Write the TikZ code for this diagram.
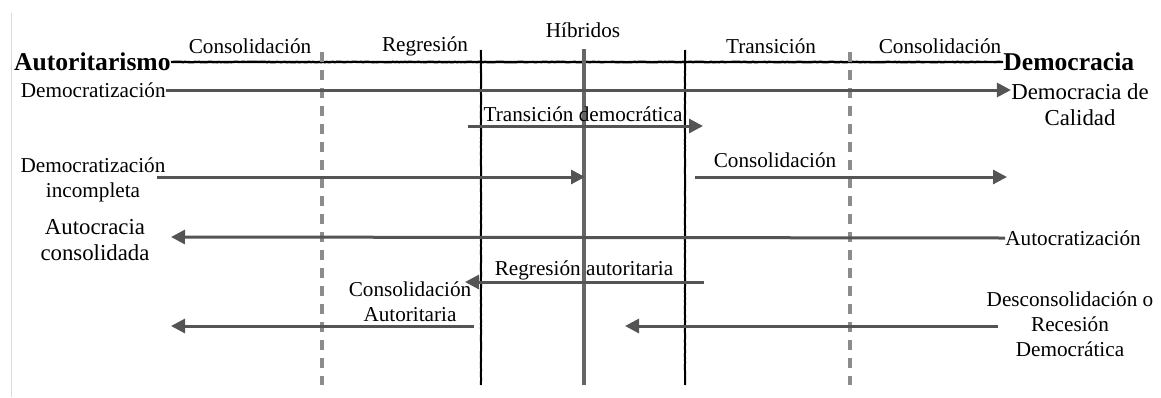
\documentclass[tikz,border=0pt]{standalone}
\usepackage{fontspec}
\setmainfont{Liberation Serif}
\usetikzlibrary{arrows.meta,decorations.pathmorphing}
\tikzstyle{lbl} = [inner sep=0pt, align=center, font=\fontsize{10.6}{12.5}\selectfont]
\tikzstyle{biglbl} = [inner sep=0pt, align=center, font=\fontsize{11.4}{13}\selectfont]
\tikzstyle{pole} = [inner sep=0pt, font=\bfseries\fontsize{12.8}{15}\selectfont]
\tikzstyle{move} = [draw=black!67, line width=1.5pt, -{Triangle[length=7pt,width=7pt]}]
\tikzstyle{rough} = [draw=black, line width=1pt, decorate, decoration={random steps, segment length=1pt, amplitude=0.12pt}]
\tikzstyle{stagedash} = [draw=black!45, line width=2pt, dash pattern=on 5pt off 4pt]
\tikzstyle{hybrid} = [draw=black!60, line width=2pt]

\begin{document}
\begin{tikzpicture}[x=0.5pt, y=-0.5pt]
    \useasboundingbox (0,0) rectangle (1161,397);
    \draw[black!15, line width=0.5pt] (11,13) -- (11,397);
    % poles and axis
    \node[pole, anchor=east](autor) at (171,62){Autoritarismo};
    \node[pole, anchor=west](democ) at (1003,62){Democracia};
    \draw[rough, line width=1.2pt] (autor) -- (democ);
    % stages
    \node[lbl](cons1) at (250,46){Consolidación};
    \node[lbl](regr) at (425,46){Regresión};
    \node[lbl](hibr) at (583,30){Híbridos};
    \node[lbl](trans) at (771,46){Transición};
    \node[lbl](cons2) at (940,46){Consolidación};
    \foreach \x in {322,850} \draw[stagedash] (\x,52) -- (\x,385);
    \foreach \x in {481,685} \draw[rough] (\x,50) -- (\x,385);
    \draw[hybrid] (584,49) -- (584,385);
    % trajectories
    \node[lbl, anchor=east](democz) at (166,90){Democratización};
    \node[biglbl](calidad) at (1080,105){Democracia de\\Calidad};
    \draw[move] (democz.east) -- (calidad.west |- democz.east);
    \node[lbl](tdem) at (583,114){Transición democrática};
    \coordinate (td1) at (468,126);
    \coordinate (td2) at (703,126);
    \draw[move] (td1) -- (td2);
    \node[lbl](dinc) at (93,180){Democratización\\incompleta};
    \coordinate (di1) at (157,177);
    \coordinate (di2) at (585,177);
    \draw[move] (di1) -- (di2);
    \node[lbl](cons3) at (775,160){Consolidación};
    \coordinate (co1) at (695,177);
    \coordinate (co2) at (1007,177);
    \draw[move] (co1) -- (co2);
    \node[lbl, anchor=west](autocz) at (1005,238){Autocratización};
    \node[biglbl](autocon) at (95,240){Autocracia\\consolidada};
    \coordinate (ac) at (171,237);
    \draw[move] (autocz.west) -- (ac);
    \node[lbl](regaut) at (584,270){Regresión autoritaria};
    \coordinate (ra1) at (704,282);
    \coordinate (ra2) at (465,282);
    \draw[move] (ra1) -- (ra2);
    \node[lbl](consaut) at (410,302){Consolidación\\Autoritaria};
    \coordinate (ca1) at (474,326);
    \coordinate (ca2) at (171,326);
    \draw[move] (ca1) -- (ca2);
    \node[lbl](descons) at (1070,324){Desconsolidación o\\Recesión\\Democrática};
    \coordinate (dr1) at (998,326);
    \coordinate (dr2) at (625,326);
    \draw[move] (dr1) -- (dr2);
\end{tikzpicture}
\end{document}
